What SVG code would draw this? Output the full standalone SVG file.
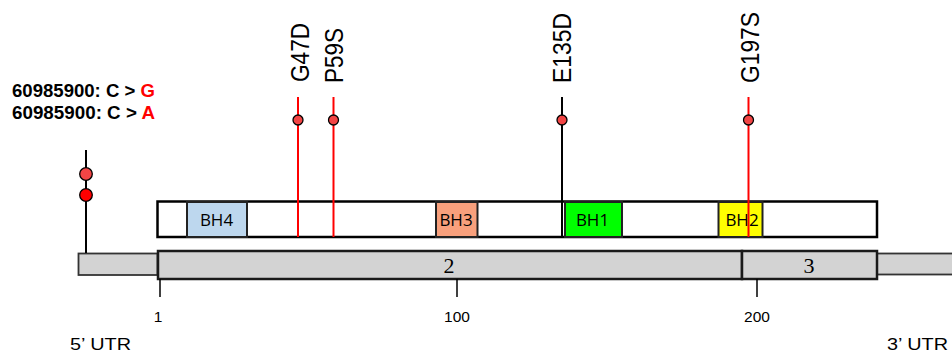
<svg xmlns="http://www.w3.org/2000/svg" width="952" height="354" viewBox="0 0 952 354">
<style>
.mut{font-family:"Liberation Sans",Arial,sans-serif;font-size:25px;fill:#000}
.var{font-family:"Liberation Sans",Arial,sans-serif;font-size:17.5px;font-weight:bold;fill:#000}
.red{fill:#ff0000}
.tick{font-family:"Liberation Sans",Arial,sans-serif;font-size:15.5px;fill:#000;text-anchor:middle}
.utr{font-family:"Liberation Sans",Arial,sans-serif;font-size:17px;fill:#000}
.exn{font-family:"Liberation Serif","Times New Roman",serif;font-size:22px;fill:#000;text-anchor:middle}
.bh{font-family:"Open Sans","Noto Sans",sans-serif;font-size:17px;fill:#000;text-anchor:middle}
.bhbox{stroke:#222;stroke-width:2}
.exbox{fill:#d3d3d3;stroke:#1a1a1a;stroke-width:2.5}
.utrbox{fill:#d3d3d3;stroke:#333;stroke-width:1.8}
.dot{fill:#f24545;stroke:#000;stroke-width:1.3}
.dot2{fill:#ff0000;stroke:#000;stroke-width:1.3}
.stemr{stroke:#ff0000;stroke-width:2}
.stemk{stroke:#000;stroke-width:2}
.tk{stroke:#000;stroke-width:1.5}
</style>

<g id="gene">
  <rect id="utr5" class="utrbox" x="78.5" y="253.5" width="79" height="21.5"/>
  <rect id="utr3" class="utrbox" x="877" y="253.5" width="80" height="21"/>
  <rect id="exon2" class="exbox" x="158" y="251" width="584" height="28"/>
  <rect id="exon3" class="exbox" x="742" y="251" width="135" height="28"/>
  <text class="exn" x="449" y="273">2</text>
  <text class="exn" x="809" y="273">3</text>
</g>

<g id="protein">
  <rect x="157.5" y="201.5" width="719.5" height="35.5" fill="#fff" stroke="#000" stroke-width="2.5"/>
</g>
<g id="BH4">
  <rect class="bhbox" x="187" y="202" width="60" height="35" fill="#bdd7ee"/>
  <text class="bh" x="216.5" y="226">BH4</text>
</g>
<g id="BH3">
  <rect class="bhbox" x="436" y="202" width="41.5" height="35" fill="#f8a07c"/>
  <text class="bh" x="456" y="226">BH3</text>
</g>
<g id="BH1">
  <rect class="bhbox" x="565" y="202" width="57" height="35" fill="#00ff00"/>
  <text class="bh" x="592.5" y="226">BH1</text>
</g>
<g id="BH2">
  <rect class="bhbox" x="718.5" y="202" width="44" height="35" fill="#ffff00"/>
  <text class="bh" x="742" y="226">BH2</text>
</g>

<g id="connectors">
  <line class="stemk" x1="86" y1="150" x2="86" y2="253"/>
  <line class="stemr" x1="298" y1="97" x2="298" y2="237"/>
  <line class="stemr" x1="333.5" y1="97" x2="333.5" y2="237"/>
  <line class="stemk" x1="562" y1="97" x2="562" y2="237"/>
  <line class="stemr" x1="748.5" y1="97" x2="748.5" y2="237"/>
</g>

<g id="axis">
  <line class="tk" x1="160" y1="279" x2="160" y2="297"/>
  <line class="tk" x1="457" y1="279" x2="457" y2="297"/>
  <line class="tk" x1="757" y1="279" x2="757" y2="297"/>
  <text class="tick" x="158" y="322">1</text>
  <text class="tick" x="457" y="322">100</text>
  <text class="tick" x="757" y="322">200</text>
  <text class="utr" x="70" y="350" textLength="61" lengthAdjust="spacingAndGlyphs">5’ UTR</text>
  <text class="utr" x="887" y="350" textLength="61" lengthAdjust="spacingAndGlyphs">3’ UTR</text>
</g>

<g id="mut-utr">
  <circle class="dot" cx="86" cy="174" r="6.3"/>
  <circle class="dot2" cx="86" cy="195" r="6.3"/>
  <text class="var" x="12" y="97" textLength="143" lengthAdjust="spacingAndGlyphs">60985900: C &gt; <tspan class="red">G</tspan></text>
  <text class="var" x="12" y="119" textLength="143" lengthAdjust="spacingAndGlyphs">60985900: C &gt; <tspan class="red">A</tspan></text>
</g>
<g id="G47D">
  <circle class="dot" cx="298" cy="120" r="5"/>
  <text class="mut" transform="translate(309,82) rotate(-90)" textLength="59" lengthAdjust="spacingAndGlyphs">G47D</text>
</g>
<g id="P59S">
  <circle class="dot" cx="333.5" cy="120" r="5"/>
  <text class="mut" transform="translate(343,83) rotate(-90)" textLength="55" lengthAdjust="spacingAndGlyphs">P59S</text>
</g>
<g id="E135D">
  <circle class="dot" cx="562" cy="120" r="5"/>
  <text class="mut" transform="translate(570.5,83) rotate(-90)" textLength="70" lengthAdjust="spacingAndGlyphs">E135D</text>
</g>
<g id="G197S">
  <circle class="dot" cx="748.5" cy="120" r="5"/>
  <text class="mut" transform="translate(759,83) rotate(-90)" textLength="71" lengthAdjust="spacingAndGlyphs">G197S</text>
</g>
</svg>
